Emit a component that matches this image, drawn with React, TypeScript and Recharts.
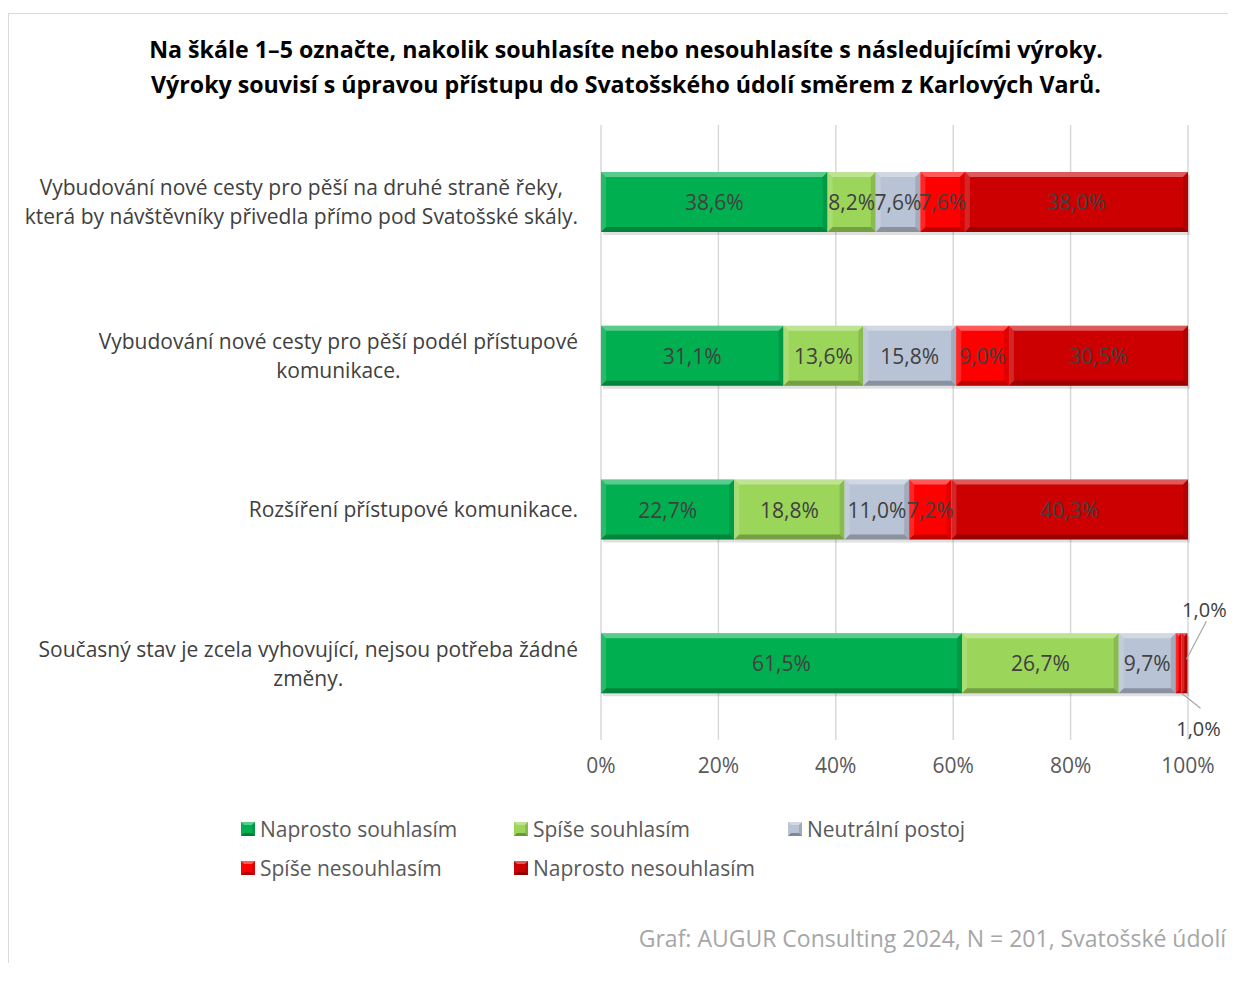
// @ts-nocheck
import React from "react";
import {
  BarChart,
  Bar,
  XAxis,
  YAxis,
  CartesianGrid,
  LabelList,
} from "recharts";

const categories = [
  "Vybudování nové cesty pro pěší na druhé straně řeky,\nkterá by návštěvníky přivedla přímo pod Svatošské skály.",
  "Vybudování nové cesty pro pěší podél přístupové\nkomunikace.",
  "Rozšíření přístupové komunikace.",
  "Současný stav je zcela vyhovující, nejsou potřeba žádné\nzměny.",
];

const seriesNames = [
  "Naprosto souhlasím",
  "Spíše souhlasím",
  "Neutrální postoj",
  "Spíše nesouhlasím",
  "Naprosto nesouhlasím",
];

const naprostoSouhlasim = [38.6, 31.1, 22.7, 61.5];
const spiseSouhlasim = [8.2, 13.6, 18.8, 26.7];
const neutralni = [7.6, 15.8, 11.0, 9.7];
const spiseNesouhlasim = [7.6, 9.0, 7.2, 1.0];
const naprostoNesouhlasim = [38.0, 30.5, 40.3, 1.0];

const xTicks = [0, 20, 40, 60, 80, 100];

const colors = ["#00B050", "#9BD65A", "#B8C3D5", "#FF0000", "#CC0000"];
const keys = ["s1", "s2", "s3", "s4", "s5"];

const data = categories.map((c, i) => ({
  name: c,
  s1: naprostoSouhlasim[i],
  s2: spiseSouhlasim[i],
  s3: neutralni[i],
  s4: spiseNesouhlasim[i],
  s5: naprostoNesouhlasim[i],
}));

const FONT = "'Open Sans', 'Noto Sans', sans-serif";
const LABEL_SIZE = 21;
const VALUE_SIZE = 21;

const fmt = (v) => v.toFixed(1).replace(".", ",") + "%";

let canvasCtx = null;
function measure(text, font) {
  if (!canvasCtx) canvasCtx = document.createElement("canvas").getContext("2d");
  canvasCtx.font = font;
  return canvasCtx.measureText(text).width;
}

// bar with a simple bevel look, like the Excel original
const BevelBar = (props) => {
  const { x, y, width, height, fill } = props;
  if (!width || width <= 0) return null;
  const w = width, h = height;
  const b = Math.min(5, w / 2, h / 2);
  return (
    <g>
      <rect x={x + 2} y={y + 3} width={w} height={h} fill="rgba(0,0,0,0.12)" />
      <rect x={x} y={y} width={w} height={h} fill={fill} />
      <polygon points={`${x},${y} ${x + w},${y} ${x + w - b},${y + b} ${x + b},${y + b}`} fill="rgba(255,255,255,0.35)" />
      <polygon points={`${x},${y} ${x + b},${y + b} ${x + b},${y + h - b} ${x},${y + h}`} fill="rgba(255,255,255,0.15)" />
      <polygon points={`${x + w},${y} ${x + w},${y + h} ${x + w - b},${y + h - b} ${x + w - b},${y + b}`} fill="rgba(0,0,0,0.12)" />
      <polygon points={`${x},${y + h} ${x + w},${y + h} ${x + w - b},${y + h - b} ${x + b},${y + h - b}`} fill="rgba(0,0,0,0.25)" />
    </g>
  );
};

const makeLabel = (seriesIdx) => (props) => {
  const { x, y, width, height, value } = props;
  if (value == null) return null;
  if (width < 12) {
    // tiny segments get a leader line and an outside label
    const right = x + width;
    if (seriesIdx === 4) {
      return (
        <g>
          <line x1={right - 1} y1={y + height / 2 - 4} x2={right + 19} y2={y - 12} stroke="#A6A6A6" strokeWidth={1.2} />
          <text x={right + 17} y={y - 24} textAnchor="middle" dominantBaseline="central" fill="#404040" fontSize={20} fontFamily={FONT}>
            {fmt(value)}
          </text>
        </g>
      );
    }
    return (
      <g>
        <line x1={x + width / 2 + 3} y1={y + height} x2={right + 19} y2={y + height + 15} stroke="#A6A6A6" strokeWidth={1.2} />
        <text x={right + 17} y={y + height + 35} textAnchor="middle" dominantBaseline="central" fill="#404040" fontSize={20} fontFamily={FONT}>
          {fmt(value)}
        </text>
      </g>
    );
  }
  return (
    <text x={x + width / 2} y={y + height / 2} textAnchor="middle" dominantBaseline="central" fill="#404040" fontSize={VALUE_SIZE} fontFamily={FONT}>
      {fmt(value)}
    </text>
  );
};

const CategoryTick = (props) => {
  const { x, y, payload } = props;
  const lines = String(payload.value).split("\n");
  const font = `${LABEL_SIZE}px ${FONT}`;
  const widths = lines.map((l) => measure(l, font));
  const maxW = Math.max(...widths);
  const cx = x - maxW / 2;
  const lh = 29;
  const y0 = y - ((lines.length - 1) * lh) / 2;
  return (
    <g>
      {lines.map((l, i) => (
        <text key={i} x={cx} y={y0 + i * lh} textAnchor="middle" dominantBaseline="central" fill="#404040" fontSize={LABEL_SIZE} fontFamily={FONT}>
          {l}
        </text>
      ))}
    </g>
  );
};

const LegendSquare = ({ color }) => (
  <svg width={14} height={14} style={{ marginRight: 5, flex: "none" }}>
    <rect x={0} y={0} width={14} height={14} fill={color} />
    <polygon points="0,0 14,0 11,3 3,3" fill="rgba(255,255,255,0.35)" />
    <polygon points="0,14 14,14 11,11 3,11" fill="rgba(0,0,0,0.3)" />
    <polygon points="14,0 14,14 11,11 11,3" fill="rgba(0,0,0,0.12)" />
  </svg>
);

const ChartLegend = () => (
  <div style={{ display: "grid", gridTemplateColumns: "273px 274px 200px", rowGap: 15 }}>
    {seriesNames.map((n, i) => (
      <div key={n} style={{ display: "flex", alignItems: "center", fontFamily: FONT, fontSize: LABEL_SIZE, color: "#595959", height: 24, whiteSpace: "nowrap" }}>
        <LegendSquare color={colors[i]} />
        {n}
      </div>
    ))}
  </div>
);

export default function App() {
  return (
    <div style={{ position: "relative", width: 1220, height: 955 }}>
      <div
        style={{
          position: "absolute",
          left: 0,
          top: 5,
          width: 1220,
          height: 950,
          borderLeft: "1px solid #D9D9D9",
          borderTop: "1px solid #D9D9D9",
          boxSizing: "border-box",
        }}
      />
      <div
        style={{
          position: "absolute",
          left: 0,
          top: 24,
          width: 1236,
          textAlign: "center",
          fontFamily: FONT,
          fontWeight: 700,
          fontSize: 23.2,
          lineHeight: "35px",
          color: "#000",
        }}
      >
        Na škále 1–5 označte, nakolik souhlasíte nebo nesouhlasíte s následujícími výroky.
        <br />
        Výroky souvisí s úpravou přístupu do Svatošského údolí směrem z Karlových Varů.
      </div>
      <div style={{ position: "absolute", left: 0, top: 0 }}>
        <BarChart
          width={1220}
          height={950}
          data={data}
          layout="vertical"
          margin={{ top: 117, right: 40, bottom: 178, left: 0 }}
          barSize={60}
        >
          <CartesianGrid horizontal={false} stroke="#D9D9D9" strokeWidth={1.5} />
          <XAxis
            type="number"
            domain={[0, 100]}
            ticks={xTicks}
            tickFormatter={(v) => v + "%"}
            axisLine={false}
            tickLine={false}
            tickSize={0}
            tickMargin={18}
            height={40}
            tick={{ fill: "#595959", fontSize: VALUE_SIZE, fontFamily: FONT }}
          />
          <YAxis
            type="category"
            dataKey="name"
            width={593}
            axisLine={false}
            tickLine={false}
            tickSize={0}
            tickMargin={23}
            tick={<CategoryTick />}
          />
          {keys.map((k, i) => (
            <Bar
              key={k}
              dataKey={k}
              name={seriesNames[i]}
              stackId="a"
              fill={colors[i]}
              shape={<BevelBar />}
              isAnimationActive={false}
            >
              <LabelList dataKey={k} content={makeLabel(i)} />
            </Bar>
          ))}
        </BarChart>
      </div>
      <div style={{ position: "absolute", left: 233, top: 809 }}>
        <ChartLegend />
      </div>
      <div
        style={{
          position: "absolute",
          right: 2,
          top: 914,
          fontFamily: FONT,
          fontSize: 23,
          color: "#A6A6A6",
          whiteSpace: "nowrap",
        }}
      >
        Graf: AUGUR Consulting 2024, N = 201, Svatošské údolí
      </div>
    </div>
  );
}
